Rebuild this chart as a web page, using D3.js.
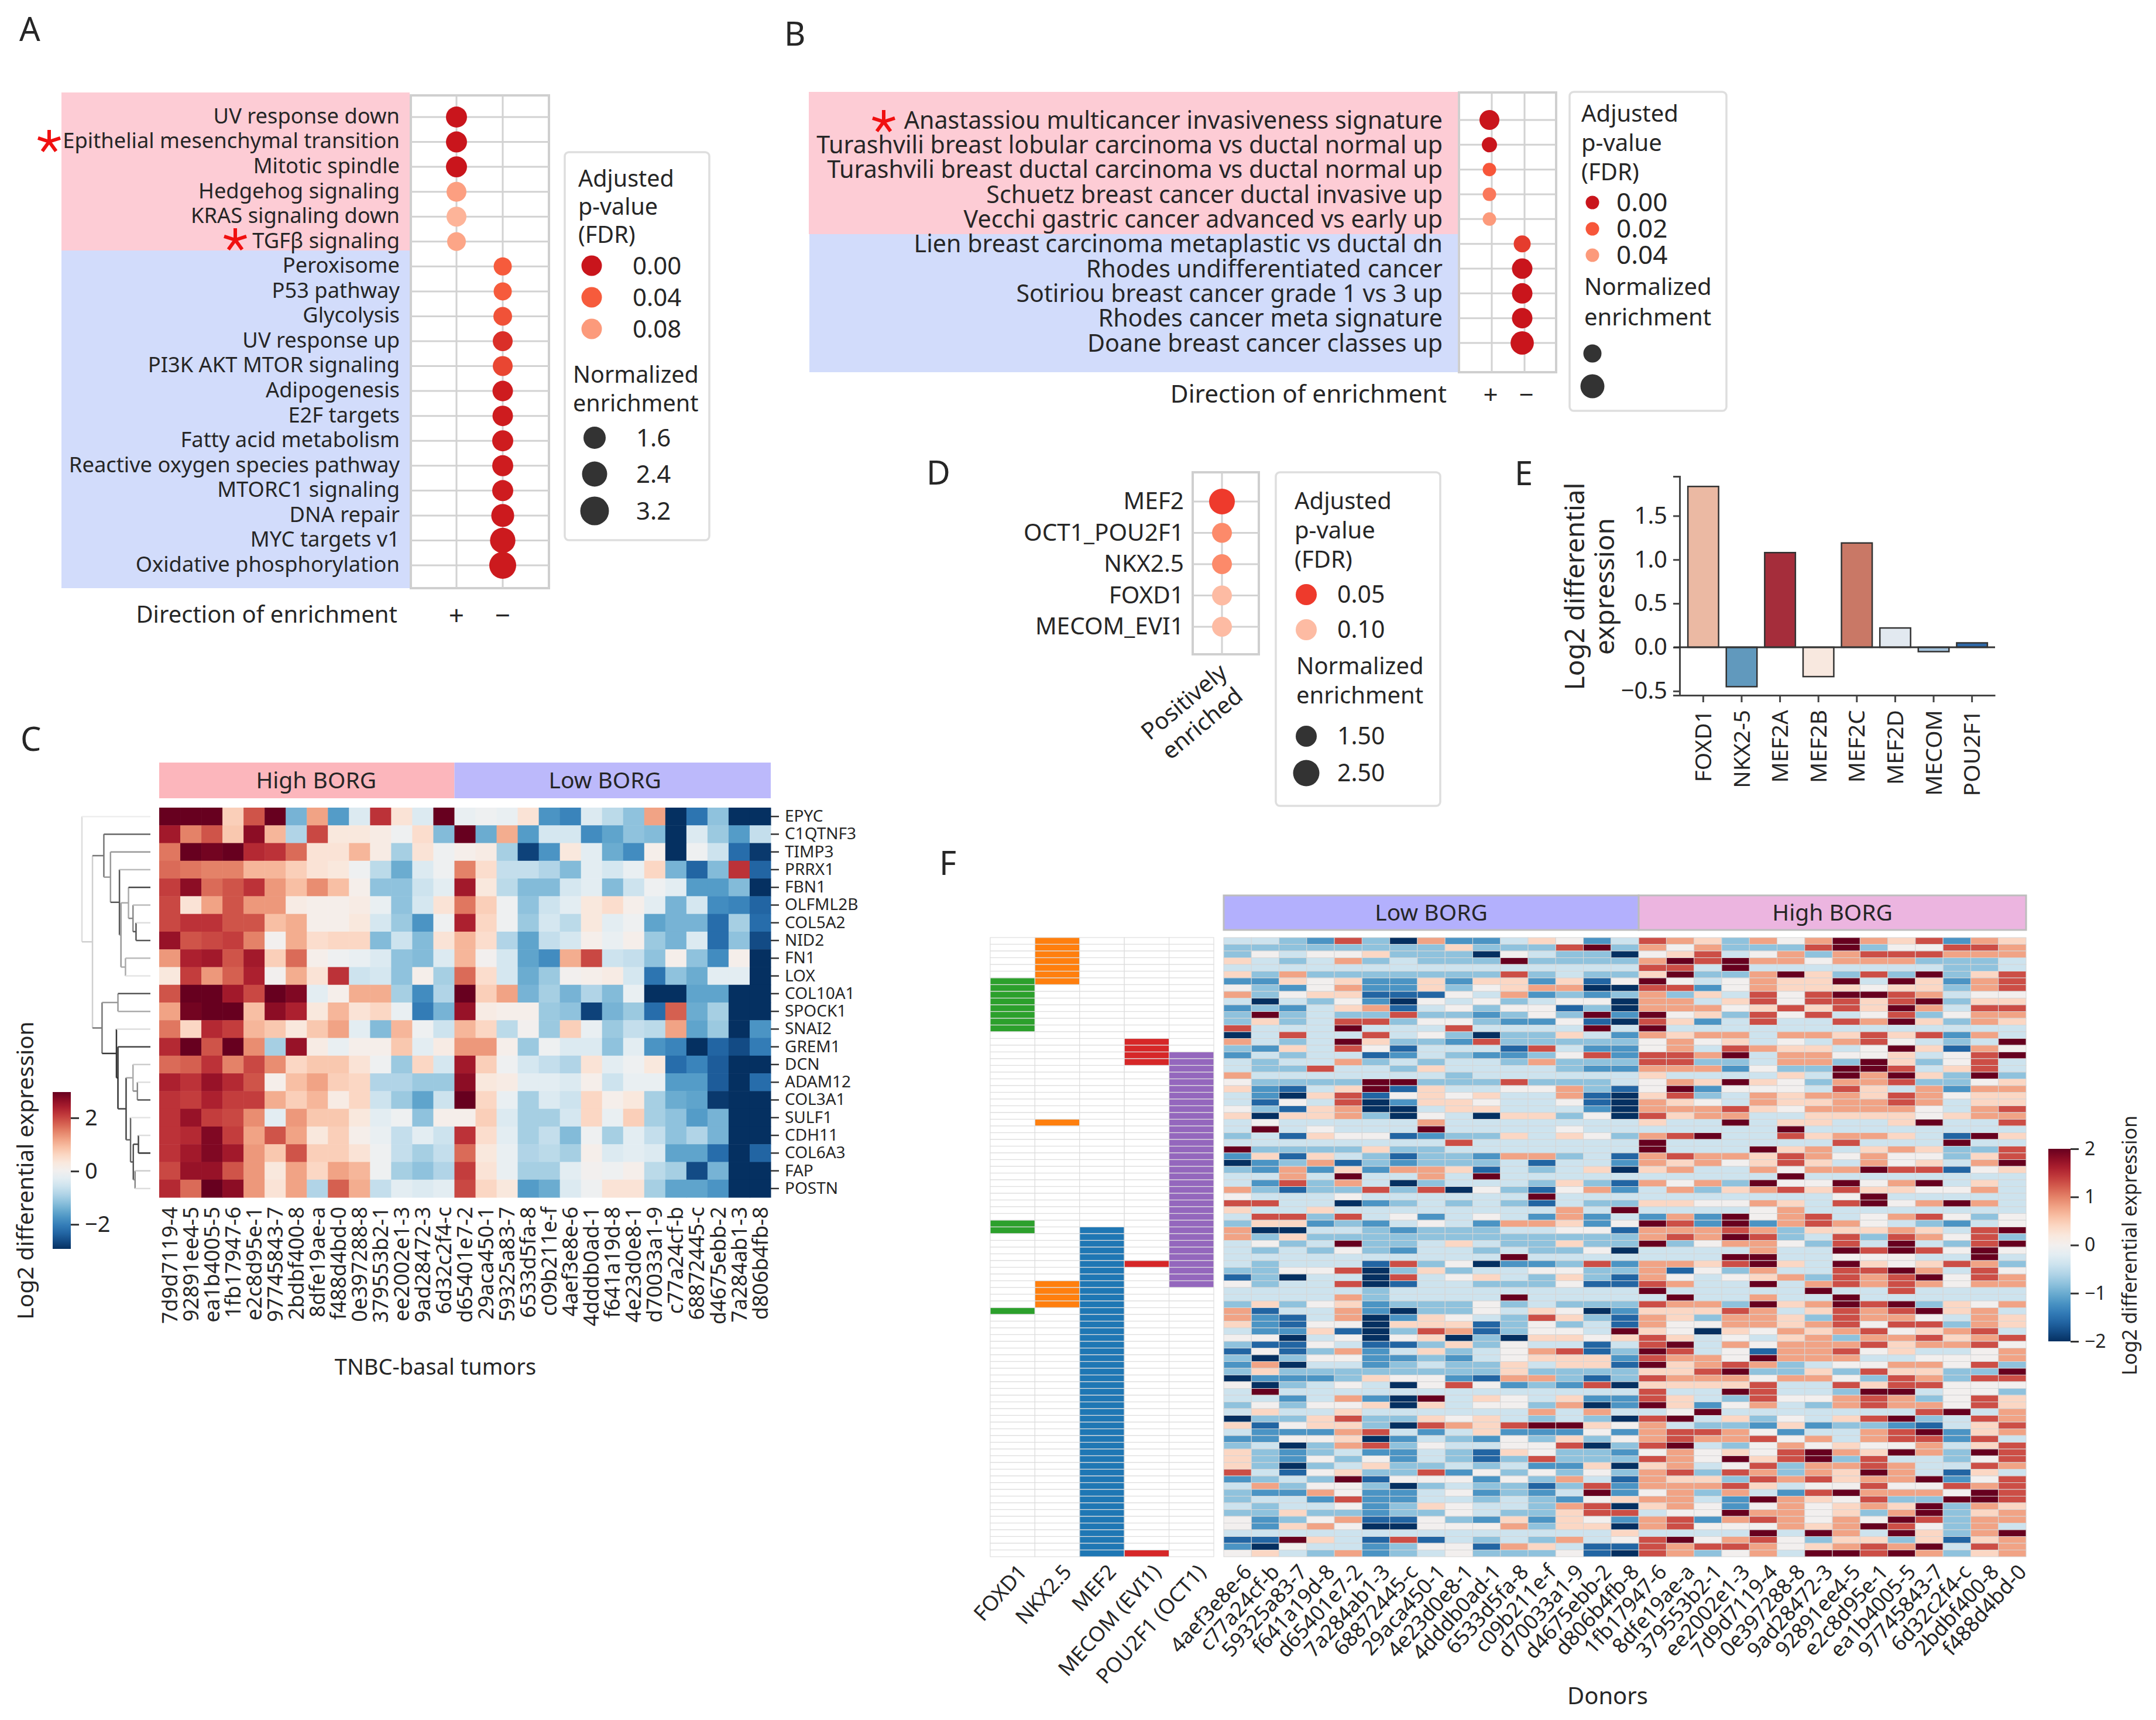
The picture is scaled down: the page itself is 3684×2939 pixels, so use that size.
<!DOCTYPE html>
<html>
<head>
<meta charset="utf-8">
<style>
  body { margin: 0; background: #fff; }
  text { font-family: "Noto Sans", sans-serif; fill: #262626; }
</style>
<script src="https://cdn.jsdelivr.net/npm/d3@7"></script>
</head>
<body>
<svg id="fig" width="3684" height="2939"></svg>
<script>
// panel A
const hallmarkSets = ["UV response down", "Epithelial mesenchymal transition", "Mitotic spindle", "Hedgehog signaling",
  "KRAS signaling down", "TGFβ signaling", "Peroxisome", "P53 pathway", "Glycolysis", "UV response up",
  "PI3K AKT MTOR signaling", "Adipogenesis", "E2F targets", "Fatty acid metabolism", "Reactive oxygen species pathway",
  "MTORC1 signaling", "DNA repair", "MYC targets v1", "Oxidative phosphorylation"];
const hallmarkDir = ["+", "+", "+", "+", "+", "+", "−", "−", "−", "−", "−", "−", "−", "−", "−", "−", "−", "−", "−"];
const hallmarkFdr = [0, 0, 0, .085, .105, .09, .04, .04, .035, .015, .028, .004, .004, .004, .004, .004, .003, .003, .003];
const hallmarkNes = [2.13, 2.13, 2.13, 1.92, 1.92, 1.7, 1.6, 1.6, 1.7, 1.92, 1.92, 2.03, 2.03, 2.13, 2.13, 2.13, 2.47, 2.92, 3.2];

// panel B
const c2Sets = ["Anastassiou multicancer invasiveness signature", "Turashvili breast lobular carcinoma vs ductal normal up",
  "Turashvili breast ductal carcinoma vs ductal normal up", "Schuetz breast cancer ductal invasive up",
  "Vecchi gastric cancer advanced vs early up", "Lien breast carcinoma metaplastic vs ductal dn",
  "Rhodes undifferentiated cancer", "Sotiriou breast cancer grade 1 vs 3 up", "Rhodes cancer meta signature",
  "Doane breast cancer classes up"];
const c2Dir = ["+", "+", "+", "+", "+", "−", "−", "−", "−", "−"];
const c2Fdr = [0, 0, .02, .03, .04, .012, 0, 0, 0, 0];
const c2Nes = [2.42, 1.75, 1.5, 1.5, 1.5, 2.0, 2.5, 2.5, 2.5, 2.9];

// panel D
const tfSets = ["MEF2", "OCT1_POU2F1", "NKX2.5", "FOXD1", "MECOM_EVI1"];
const tfFdr = [.05, .07, .07, .1, .1];
const tfNes = [2.5, 1.5, 1.5, 1.5, 1.5];

// panel E
const tfGenes = ["FOXD1", "NKX2-5", "MEF2A", "MEF2B", "MEF2C", "MEF2D", "MECOM", "POU2F1"];
const tfLogFc = [1.835, -0.45, 1.08, -0.335, 1.19, 0.22, -0.05, 0.05];
const tfBarColors = ["#ebb9a3", "#6199bd", "#a52d3b", "#f8e8df", "#c97866", "#e2e9f0", "#a5c3dc", "#2f69a8"];

// panel C
const cDonors = ["7d9d7119-4", "92891ee4-5", "ea1b4005-5", "1fb17947-6", "e2c8d95e-1", "97745843-7", "2bdbf400-8",
  "8dfe19ae-a", "f488d4bd-0", "0e397288-8", "379553b2-1", "ee2002e1-3", "9ad28472-3", "6d32c2f4-c",
  "d65401e7-2", "29aca450-1", "59325a83-7", "6533d5fa-8", "c09b211e-f", "4aef3e8e-6", "4dddb0ad-1",
  "f641a19d-8", "4e23d0e8-1", "d70033a1-9", "c77a24cf-b", "68872445-c", "d4675ebb-2", "7a284ab1-3", "d806b4fb-8"];
const cGenes = ["EPYC", "C1QTNF3", "TIMP3", "PRRX1", "FBN1", "OLFML2B", "COL5A2", "NID2", "FN1", "LOX", "COL10A1",
  "SPOCK1", "SNAI2", "GREM1", "DCN", "ADAM12", "COL3A1", "SULF1", "CDH11", "COL6A3", "FAP", "POSTN"];
const cValues = [
  [3,3,3,.7,1.9,3,-1.4,1.2,-1.7,-.4,2.2,.4,-.4,3, -.2,-.1,-.2,.4,-1.8,-2,-.4,-.8,-1.2,1.2,-3,-2.2,-1.2,-3,-3],
  [2.5,1.5,1.9,.8,2.7,1,-.9,2,.3,.3,.2,-.1,.5,-1.3, 3,-1.5,1.1,-1.7,-.5,-.5,-1.9,-1.6,-1.2,-1.3,-3,-.4,-1.1,-1.7,-.7],
  [1.6,3,2.9,3,2.3,2.2,1.7,.4,.4,1,.2,-1,.4,-.1, .1,.2,-1,-2.8,-1.8,.3,-.3,-1.5,-1.9,.1,-3,-.1,-.6,-2.3,-2.9],
  [1.7,1.6,1.5,1.5,1,1,.7,.4,.3,-.1,-.8,-1.5,-.4,-.1, 1.5,.5,-.7,-.7,-.9,-1.3,-.3,-.5,-.2,.6,-1.4,-2.4,-1.3,2.2,-2.4],
  [2.1,2.7,1.7,1.9,2.2,1.3,.9,1.4,.9,.1,-1.2,-1.2,-.6,-.3, 2.5,.3,-.8,-1.3,-1.3,-.5,-.3,-1.3,-.6,-.1,-.3,-1.7,-1.7,-1.3,-3],
  [2,.4,1.2,1.9,1.3,1.3,.2,.1,.1,.2,-.2,-1.2,-.5,.4, 1.6,.7,-.1,-1.2,-.6,-.3,.3,.5,.1,-.3,-1.4,-.5,-1.9,-2,-2.4],
  [2,2.2,2.2,1.9,1.9,.9,1.1,.1,.1,.3,-.5,-1.1,-1.8,-.1, 2.4,.6,-.1,-1.1,-.5,-.8,.3,-.3,-.1,-1.6,-1.4,-1.4,-2.3,-1,-2.3],
  [2.6,1.9,2,2.1,1.5,0,1.1,.5,.6,.6,-1.3,-.6,-1.3,.4, 1,.5,-.9,-1.6,-.7,-.5,.1,-.2,.1,-1.1,-1.4,-.4,-2.3,-1.2,-2.7],
  [1.3,2.4,2.5,1.9,2.5,.7,1.7,.1,-.1,-.2,-.4,-1.2,-1.3,-.4, 1,0,-.5,-1.6,-1.9,1.1,2,-.6,-.7,-1.2,.1,-1.2,-1.9,.1,-3],
  [.3,2.1,1.3,1.8,2.4,0,1.1,.4,2.2,-.6,-.5,-1.2,.1,-1, 1.7,.5,-.5,-1.5,-1.1,0,.1,.2,-.5,-2.2,-1.2,-1.5,-.3,-.3,-3],
  [1.9,3,3,2.5,2,3,2.8,-.3,.1,1.1,1.1,-1,-1.9,-.9, 3,.7,1.2,-1.4,-1,-1.4,-.9,-1.3,-.2,-3,-3,-1.6,-1.6,-3,-3],
  [1.2,2.9,3,3,.9,2.7,2.4,.3,1,.4,.6,-.2,-2.1,-1.4, 2.6,.2,.1,.1,-1.1,-1.2,-2.8,-1.4,-1.1,-2.3,1.8,-1.5,-1,-3,-3],
  [1.6,.6,2.3,2.1,1,.8,.3,.8,1.2,-.3,-1.3,1,-.1,-.6, 1,.6,-.8,0,-1.1,.7,-.2,-1.1,-.7,-.8,1.2,-1.6,-1.1,-3,-1.8],
  [2.3,3,1.9,3,1.4,-1,2.6,.2,-.2,.1,.1,.8,-.3,.2, 1.3,1.3,.1,-1.1,-.1,-.4,-.4,-1.2,-.3,-1.8,-2,-3,-2.4,-2.7,-2.1],
  [1.7,1.8,2.2,1.5,2,1.4,.6,.8,.8,.4,-.1,-1.1,.6,-.5, 2.5,.7,-.1,-.5,-.7,-.9,.4,-.3,-.1,.3,-2.3,-2,-2.5,-3,-3],
  [2.4,2.2,2.6,2.3,1.9,.1,.9,1.2,.7,.6,-.9,-.9,-1.1,-1.1, 2.7,.3,.2,-.3,-.3,-.4,.1,-.6,-.2,-.2,-1.7,-1.7,-2.5,-3,-2.3],
  [2.2,2.1,2.4,2.1,2.1,1.1,.7,1,.2,.6,-.6,-1.1,-1.6,-.6, 3,.6,-.2,-1,-.4,-.6,.6,.1,.3,-1,-1.5,-1.6,-2.9,-3,-3],
  [2.2,2.6,2.1,2,1.4,-.3,1.3,.8,.8,.3,-.3,-.1,-1.2,.1, .1,.7,-.4,-1,-1,-.5,.6,-.2,.7,-1,-1.2,-1.7,-1.4,-3,-3],
  [2.2,2.3,2.8,2.1,1.2,1.9,1.2,.3,.7,.1,-.2,-.7,-.3,-.6, 2.2,.5,-.3,-1,-.7,-1.3,-.1,-1,-.3,-.7,-1.2,-.9,-1.4,-3,-3],
  [2.2,2.5,2.8,2.5,1.3,.8,1.9,.7,.7,.4,-.1,-.7,-1,-.7, 1.7,.3,-.2,-.9,-.8,-1,.1,-.4,-.3,-.4,-1.6,-1.6,-2.3,-3,-2.4],
  [2,2.6,2.6,1.9,1.3,.3,1.2,.6,1.2,1,-.1,-1,-1.2,-.9, 2.1,.4,-.2,-1,-1,-.3,0,-.1,.1,-.8,-1,-2.7,-1.4,-3,-3],
  [2.3,1.7,3,2.7,1.3,.4,1.2,-.9,1.8,1.1,-.7,-.3,-.4,-.3, 2,.6,.3,-1.7,-1.5,-.4,-.1,.4,.4,-1,-1.6,-1.6,-1.8,-3,-3]
];
const cGroups = ["High BORG", "Low BORG"];
const cGroupSizes = [14, 15];

// gene tree beside panel C, merge height 0..1
const cTree = {h: 1, s: "#dcdcdc", c: [
  {n: "EPYC", s: "#eeeeee"},
  {h: .846, s: "#cfcfcf", c: [
    {h: .68, s: "#777", c: [
      {n: "C1QTNF3", s: "#666"},
      {h: .583, s: "#999", c: [
        {n: "TIMP3", s: "#999"},
        {h: .452, s: "#555", c: [
          {n: "PRRX1", s: "#bbb"},
          {h: .43, s: "#999", c: [
            {h: .32, s: "#aaa", c: [
              {n: "FBN1", s: "#444"},
              {h: .254, s: "#888", c: [
                {n: "OLFML2B", s: "#bbb"},
                {h: .21, s: "#555", c: [{n: "COL5A2", s: "#ddd"}, {n: "NID2", s: "#555"}]}
              ]}
            ]},
            {h: .364, s: "#aaa", c: [{n: "FN1", s: "#bbb"}, {n: "LOX", s: "#e4e4e4"}]}
          ]}
        ]}
      ]}
    ]},
    {h: .706, s: "#777", c: [
      {h: .474, s: "#999", c: [{n: "COL10A1", s: "#555"}, {n: "SPOCK1", s: "#aaa"}]},
      {h: .496, s: "#333", c: [
        {n: "SNAI2", s: "#ddd"},
        {h: .474, s: "#333", c: [
          {n: "GREM1", s: "#444"},
          {h: .355, s: "#444", c: [
            {h: .254, s: "#aaa", c: [
              {n: "DCN", s: "#ccc"},
              {h: .19, s: "#888", c: [{n: "ADAM12", s: "#ddd"}, {n: "COL3A1", s: "#555"}]}
            ]},
            {h: .29, s: "#666", c: [
              {n: "SULF1", s: "#e4e4e4"},
              {h: .25, s: "#555", c: [
                {h: .175, s: "#444", c: [{n: "CDH11", s: "#ddd"}, {n: "COL6A3", s: "#333"}]},
                {h: .224, s: "#888", c: [{n: "FAP", s: "#ccc"}, {n: "POSTN", s: "#ddd"}]}
              ]}
            ]}
          ]}
        ]}
      ]}
    ]}
  ]}
]};

// panel F
const fDonors = ["4aef3e8e-6", "c77a24cf-b", "59325a83-7", "f641a19d-8", "d65401e7-2", "7a284ab1-3", "68872445-c",
  "29aca450-1", "4e23d0e8-1", "4dddb0ad-1", "6533d5fa-8", "c09b211e-f", "d70033a1-9", "d4675ebb-2", "d806b4fb-8",
  "1fb17947-6", "8dfe19ae-a", "379553b2-1", "ee2002e1-3", "7d9d7119-4", "0e397288-8", "9ad28472-3", "92891ee4-5",
  "e2c8d95e-1", "ea1b4005-5", "97745843-7", "6d32c2f4-c", "2bdbf400-8", "f488d4bd-0"];
const fGroups = ["Low BORG", "High BORG"];
const fGroupSizes = [15, 14];
const fTfs = ["FOXD1", "NKX2.5", "MEF2", "MECOM (EVI1)", "POU2F1 (OCT1)"];
const fTfColors = ["#2ca02c", "#ff7f0e", "#1f77b4", "#d62728", "#9467bd"];
const foxd1Rows = [6, 7, 8, 9, 10, 11, 12, 13, 42, 43, 55];
const nkx25Rows = [0, 1, 2, 3, 4, 5, 6, 27, 51, 52, 53, 54];
const mef2Rows = [43, 44, 45, 46, 47, 48, 49, 50, 51, 52, 53, 54, 55, 56, 57, 58, 59, 60, 61, 62, 63, 64, 65, 66, 67,
  68, 69, 70, 71, 72, 73, 74, 75, 76, 77, 78, 79, 80, 81, 82, 83, 84, 85, 86, 87, 88, 89, 90, 91];
const mecomRows = [15, 16, 17, 18, 48, 91];
const pou2f1Rows = [17, 18, 19, 20, 21, 22, 23, 24, 25, 26, 27, 28, 29, 30, 31, 32, 33, 34, 35, 36, 37, 38, 39, 40, 41,
  42, 43, 44, 45, 46, 47, 48, 49, 50, 51];

// one digit per cell, read by eye from the colour: see fLevels
const fLevels = [-2, -1.6, -1.2, -.8, -.4, 0, .4, .8, 1.3, 2];
const fRows = [
  "44328307 2246524 87637579768276", "33333333 6333893 75733389355887", "35455633 3054330 56845737888777",
  "64347343 3393333 79897757773334", "44444444 4444444 88494444444334", "63733333 3383433 69337963839368",
  "22656226 2662615 95457669496278", "53257226 3567700 88257666566378", "73566111 5472323 73648589987455",
  "40435205 4534550 77468588689366", "23246714 5355130 77756868697488", "39343383 3235392 95638584583577",
  "36348835 5322510 86248448796376", "84449444 8444494 94444444444444", "04844845 3033642 76774776868274",
  "74349633 2833333 57564547854349", "32648514 4418422 57487664596175", "24344124 3223582 88794775564589",
  "43447343 4437333 88334773963584", "43384436 4444322 77725339984684", "74444444 3444444 64444649796393",
  "53333993 3383334 57696537783356", "62146916 4455731 59255548647277", "42068156 5644710 68347677687566",
  "41548026 6544510 76547667787466", "53167004 6644420 77786577775478", "60667305 4066350 86774466665677",
  "45444447 4444444 64494664469448", "49454449 4444544 44444944444444", "34165512 3364653 78944867764196",
  "44444444 8444444 94444448444944", "93333633 4444444 94449674676338", "26164313 3277341 78776875755368",
  "02371323 3341442 76756864756479", "32726277 6143460 67447577988156", "44749447 4944444 44444944444444",
  "42837403 4443631 75739559579464", "73133838 0531572 47367868665574", "54445444 4449444 44444445944444",
  "88440234 3431433 66557648957974", "64464444 4444749 44445744444444", "48838452 4542724 27295784578535",
  "36623245 4277625 98292787543245", "70044323 3344551 77787366676489", "73633333 3333333 78798348387583",
  "45349334 6433633 93577538494389", "43435324 4343350 44447449898595", "44444444 4494444 44499445554494",
  "43444183 5022382 77689649656873", "33558036 3445533 71537448897485", "13044084 5643631 75456738789587",
  "53448014 4333511 87449478787577", "44444344 4444444 94444494484444", "44447344 4494444 49447449444444",
  "36356233 3534333 87739679893657", "71447203 3546502 66687468789674", "72147026 5438631 76377638775476",
  "62155066 6135341 75577678588376", "42261038 7135549 65065767856784", "55045056 0306656 86454673778678",
  "31154113 6354414 89475777867785", "15137246 3457813 98451778564457", "30355223 2456662 87759777445557",
  "27044234 3364661 96787345577583", "36333333 3363333 66893363866339", "02223655 2177313 87775775387388",
  "50345405 8523280 66668448688555", "49444444 4444444 84498443994553", "44247209 4654622 86438557873586",
  "35355606 4553702 96257437877586", "46446444 4447474 45944444448947", "03368336 5643430 89463546893487",
  "61566308 7689965 74332623321468", "42227842 4622252 78875244789267", "22556024 3253635 78778574788284",
  "34037835 4455803 89435756557468", "63234224 3165332 57565897697398", "63253524 3138333 87596893844358",
  "63034633 4342260 67458377874487", "84156338 2535353 78387376974164", "23439155 5253741 76638786779258",
  "47355303 4331382 77786455855878", "32275224 5232492 57374289777598", "34428224 4343256 77429765833998",
  "43445236 5443780 67525756769376", "33633233 5433688 45597756379367", "52357115 3262652 78278757598377",
  "52675005 5573660 78555767985374", "44444444 4444446 44449497496379", "11964181 4343745 89578536636167",
  "20544235 5176411 87887567879487", "56437234 5333510 87357499897367"
];
const fValues = fRows.map(r => Array.from(r.replace(/ /g, ""), ch => fLevels[+ch]));

const panelLetters = ["A", "B", "C", "D", "E", "F"];
const letterX = [33, 1340, 35, 1583, 2588, 1605];
const letterY = [70, 78, 1283, 828, 829, 1495];

const svg = d3.select("#fig");
const rdbu = t => d3.interpolateRdBu(1 - t);
const GRID = "#d2d2d2";

svg.selectAll("text.letter").data(panelLetters).join("text").attr("class", "letter")
  .attr("x", (d, i) => letterX[i]).attr("y", (d, i) => letterY[i])
  .attr("font-size", 56).text(d => d);

function addLines(g, lines, x, y, size, anchor, gap) {
  lines.forEach((t, i) => {
    g.append("text").attr("x", x).attr("y", y + i * (gap || 0)).attr("dy", ".35em")
      .attr("font-size", size).attr("text-anchor", anchor || "start").text(t);
  });
}

function star(cx, cy) {
  const p = d3.path();
  d3.range(5).forEach(k => {
    p.moveTo(cx, cy);
    p.lineTo(cx + 20 * Math.sin(k * 2 * Math.PI / 5), cy - 20 * Math.cos(k * 2 * Math.PI / 5));
  });
  svg.append("path").attr("d", p.toString()).attr("stroke", "#f01010").attr("stroke-width", 6).attr("fill", "none");
}

// dot plots A, B and D share this
function dotPanel(o) {
  const g = svg.append("g");
  const y = d3.scalePoint().domain(o.labels).range(o.rowRange);
  const x = d3.scalePoint().domain(o.dirs).range(o.colRange);
  const r = d3.scaleLinear().domain(o.nesDomain).range(o.rRange);
  const col = d3.scaleLinear().domain(o.fdrDomain).range(o.fdrColors);

  if (o.bands) {
    o.bands.forEach(b => {
      g.append("rect").attr("x", b.x0).attr("width", b.x1 - b.x0).attr("y", b.y0).attr("height", b.y1 - b.y0).attr("fill", b.fill);
    });
  }
  g.append("rect").attr("x", o.box[0]).attr("y", o.box[1]).attr("width", o.box[2] - o.box[0]).attr("height", o.box[3] - o.box[1])
    .attr("fill", o.bands ? "#fff" : "none").attr("stroke", "#cfcfcf").attr("stroke-width", 4);
  g.selectAll("line.h").data(o.labels).join("line").attr("class", "h")
    .attr("x1", o.box[0]).attr("x2", o.box[2]).attr("y1", d => y(d)).attr("y2", d => y(d))
    .attr("stroke", GRID).attr("stroke-width", 3);
  g.selectAll("line.v").data(o.dirs).join("line").attr("class", "v")
    .attr("x1", d => x(d)).attr("x2", d => x(d)).attr("y1", o.box[1]).attr("y2", o.box[3])
    .attr("stroke", GRID).attr("stroke-width", 3);
  g.selectAll("circle.dot").data(o.labels).join("circle").attr("class", "dot")
    .attr("cx", (d, i) => x(o.dir[i]) + (o.dotShift || 0)).attr("cy", d => y(d))
    .attr("r", (d, i) => r(o.nes[i])).attr("fill", (d, i) => col(o.fdr[i]));
  g.selectAll("text.row").data(o.labels).join("text").attr("class", "row")
    .attr("x", o.labelX).attr("y", d => y(d)).attr("dy", o.labelDy).attr("text-anchor", "end")
    .attr("font-size", o.labelSize).text(d => d);

  // legend
  const l = o.legend;
  g.append("rect").attr("x", l.box[0]).attr("y", l.box[1]).attr("width", l.box[2] - l.box[0]).attr("height", l.box[3] - l.box[1])
    .attr("rx", 7).attr("fill", "#fff").attr("stroke", "#dedede").attr("stroke-width", 3.5);
  addLines(g, ["Adjusted", "p-value", "(FDR)"], l.titleX, l.titleY, l.size, "start", l.titleGap);
  addLines(g, ["Normalized", "enrichment"], l.normX, l.normY, l.size, "start", l.normGap);
  l.fdrVals.forEach((v, i) => {
    g.append("circle").attr("cx", l.fdrCx).attr("cy", l.fdrY[i]).attr("r", l.fdrR).attr("fill", col(v));
    addLines(g, [v.toFixed(2)], l.fdrLabelX, l.fdrY[i], l.valueSize);
  });
  l.nesVals.forEach((v, i) => {
    g.append("circle").attr("cx", l.nesCx).attr("cy", l.nesY[i]).attr("r", l.nesR[i]).attr("fill", "#333");
    if (l.nesLabelX) addLines(g, [v.toFixed(l.nesDigits)], l.nesLabelX, l.nesY[i], l.valueSize);
  });
  return {x, y, g};
}

// A
{
  const p = dotPanel({
    labels: hallmarkSets, dir: hallmarkDir, dirs: ["+", "−"], fdr: hallmarkFdr, nes: hallmarkNes,
    rowRange: [200, 966], colRange: [780, 859], nesDomain: [1.6, 3.2], rRange: [15.5, 23],
    fdrDomain: [0, .04, .08, .12], fdrColors: ["#c9151c", "#f65b3c", "#fc9a7b", "#fdc4ab"],
    box: [702, 163, 938, 1005], labelX: 683, labelSize: 36.3, labelDy: ".3em",
    bands: [{x0: 105, x1: 700, y0: 158, y1: 428, fill: "#fdccd5"}, {x0: 105, x1: 700, y0: 428, y1: 1005, fill: "#d2dcfb"}],
    legend: {box: [965, 260, 1212, 923], size: 39.5, valueSize: 42, titleX: 988, titleY: 305, titleGap: 48, normX: 979, normY: 640, normGap: 49,
      fdrVals: [0, .04, .08], fdrCx: 1011, fdrY: [454, 508, 562], fdrR: 17.5, fdrLabelX: 1081,
      nesVals: [1.6, 2.4, 3.2], nesDigits: 1, nesCx: 1016, nesY: [748, 810, 873], nesR: [19, 21.5, 24.5], nesLabelX: 1087}
  });
  addLines(p.g, ["Direction of enrichment"], 679, 1050, 40, "end");
  addLines(p.g, ["+"], 780, 1052, 46, "middle");
  addLines(p.g, ["−"], 859, 1052, 46, "middle");
  star(84, 242);
  star(402, 410);
}

// B
{
  const p = dotPanel({
    labels: c2Sets, dir: c2Dir, dirs: ["+", "−"], fdr: c2Fdr, nes: c2Nes,
    rowRange: [205, 586], colRange: [2549, 2605], nesDomain: [1.5, 2.5], rRange: [11.5, 17.5], dotShift: -4,
    fdrDomain: [0, .02, .04], fdrColors: ["#c9151c", "#f7563a", "#fc9a7b"],
    box: [2493, 158, 2659, 636], labelX: 2465, labelSize: 41.2, labelDy: ".36em",
    bands: [{x0: 1382, x1: 2491, y0: 157, y1: 400, fill: "#fdccd5"}, {x0: 1383, x1: 2491, y0: 400, y1: 636, fill: "#d2dcfb"}],
    legend: {box: [2682, 157, 2950, 702], size: 40, valueSize: 44, titleX: 2702, titleY: 194, titleGap: 50, normX: 2707, normY: 490, normGap: 52,
      fdrVals: [0, .02, .04], fdrCx: 2721, fdrY: [346, 391, 436], fdrR: 11.5, fdrLabelX: 2762,
      nesVals: [1.5, 2.5], nesDigits: 2, nesCx: 2721, nesY: [604, 660], nesR: [15.5, 20.5]}
  });
  addLines(p.g, ["Direction of enrichment"], 2472, 673, 42.3, "end");
  addLines(p.g, ["+"], 2547, 675, 44, "middle");
  addLines(p.g, ["−"], 2608, 675, 44, "middle");
  star(1510, 208);
}

// D
{
  const p = dotPanel({
    labels: tfSets, dir: tfSets.map(() => "+"), dirs: ["+"], fdr: tfFdr, nes: tfNes,
    rowRange: [857, 1071], colRange: [2088, 2088], nesDomain: [1.5, 2.5], rRange: [17, 22],
    fdrDomain: [.05, .07, .1], fdrColors: ["#ee3a2c", "#fc8a6a", "#fdbba3"],
    box: [2038, 807, 2151, 1118], labelX: 2023, labelSize: 40.5, labelDy: ".33em",
    legend: {box: [2180, 807, 2461, 1377], size: 40, valueSize: 41, titleX: 2212, titleY: 856, titleGap: 50, normX: 2215, normY: 1138, normGap: 50,
      fdrVals: [.05, .1], fdrCx: 2232, fdrY: [1016, 1076], fdrR: 18, fdrLabelX: 2285,
      nesVals: [1.5, 2.5], nesDigits: 2, nesCx: 2232, nesY: [1258, 1321], nesR: [18, 22.5], nesLabelX: 2285}
  });
  p.g.append("text").attr("transform", "translate(2023,1199) rotate(-40)").attr("text-anchor", "middle").attr("dy", ".35em").attr("font-size", 40).text("Positively");
  p.g.append("text").attr("transform", "translate(2054,1236) rotate(-40)").attr("text-anchor", "middle").attr("dy", ".35em").attr("font-size", 40).text("enriched");
}

// E
{
  const g = svg.append("g");
  const x = d3.scaleBand().domain(tfGenes).range([2871, 3409]).padding(.2);
  const y = d3.scaleLinear().domain([-0.548, 1.95]).range([1188, 814]);
  g.selectAll("rect").data(tfGenes).join("rect")
    .attr("x", d => x(d)).attr("width", x.bandwidth())
    .attr("y", (d, i) => y(Math.max(0, tfLogFc[i])))
    .attr("height", (d, i) => Math.abs(y(tfLogFc[i]) - y(0)))
    .attr("fill", (d, i) => tfBarColors[i]).attr("stroke", "#333").attr("stroke-width", 2.5);

  const ya = g.append("g").attr("transform", "translate(2870,0)")
    .call(d3.axisLeft(y).tickValues([-.5, 0, .5, 1, 1.5]).tickFormat(d3.format(".1f")).tickSize(11).tickPadding(10));
  const xa = g.append("g").attr("transform", "translate(0,1188)")
    .call(d3.axisBottom(x).tickSize(12).tickSizeOuter(0));
  ya.selectAll("text").attr("font-size", 40).attr("font-family", '"Noto Sans"');
  xa.selectAll("text").attr("font-size", 39).attr("font-family", '"Noto Sans"')
    .attr("transform", "rotate(-90)").attr("text-anchor", "end").attr("x", -25).attr("y", 0).attr("dy", ".35em");
  g.selectAll(".domain,.tick line").attr("stroke", "#444").attr("stroke-width", 3);
  g.append("line").attr("x1", 2860).attr("x2", 3409).attr("y1", y(0)).attr("y2", y(0)).attr("stroke", "#333").attr("stroke-width", 3);
  g.append("text").attr("transform", "translate(2691,1002) rotate(-90)").attr("text-anchor", "middle").attr("dy", ".35em").attr("font-size", 46).text("Log2 differential");
  g.append("text").attr("transform", "translate(2742,1002) rotate(-90)").attr("text-anchor", "middle").attr("dy", ".35em").attr("font-size", 46).text("expression");
}

function colorbar(id, x0, x1, scale, ticks, size, titleX, titleY, titleSize) {
  const stops = d3.range(0, 1.001, .05);
  const grad = svg.append("linearGradient").attr("id", id).attr("x1", 0).attr("x2", 0).attr("y1", 1).attr("y2", 0);
  grad.selectAll("stop").data(stops).join("stop").attr("offset", d => d).attr("stop-color", d => rdbu(d));
  const [y1, y0] = scale.range();
  svg.append("rect").attr("x", x0).attr("width", x1 - x0).attr("y", y0).attr("height", y1 - y0).attr("fill", `url(#${id})`);
  const a = svg.append("g").attr("transform", `translate(${x1},0)`)
    .call(d3.axisRight(scale).tickValues(ticks).tickFormat(d3.format("d")).tickSize(14).tickPadding(10));
  a.select(".domain").remove();
  a.selectAll("text").attr("font-size", size).attr("font-family", '"Noto Sans"');
  a.selectAll("line").attr("stroke", "#333").attr("stroke-width", 3);
  svg.append("text").attr("transform", `translate(${titleX},${titleY}) rotate(-90)`).attr("text-anchor", "middle")
    .attr("dy", ".35em").attr("font-size", titleSize).text("Log2 differential expression");
}

function groupHeader(x, y0, y1, groups, sizes, colors, size, stroke, labelShift) {
  let n = 0;
  groups.forEach((name, i) => {
    const a = x(x.domain()[n]), b = a + x.step() * sizes[i];
    const r = svg.append("rect").attr("x", a).attr("y", y0).attr("width", b - a).attr("height", y1 - y0).attr("fill", colors[i]);
    if (stroke) r.attr("stroke", stroke).attr("stroke-width", 3);
    svg.append("text").attr("x", (a + b) / 2 + labelShift[i]).attr("y", (y0 + y1) / 2).attr("dy", ".35em").attr("text-anchor", "middle")
      .attr("font-size", size).text(name);
    n += sizes[i];
  });
}

// C
{
  const x = d3.scaleBand().domain(cDonors).range([272, 1317]);
  const y = d3.scaleBand().domain(cGenes).range([1380, 2046]);
  const col = d3.scaleSequential(rdbu).domain([-3, 3]);
  const cells = cValues.flatMap((row, r) => row.map((v, c) => ({gene: cGenes[r], donor: cDonors[c], v})));
  svg.append("g").selectAll("rect").data(cells).join("rect")
    .attr("x", d => x(d.donor)).attr("y", d => y(d.gene))
    .attr("width", x.bandwidth() + .5).attr("height", y.bandwidth() + .5)
    .attr("fill", d => col(d.v));

  groupHeader(x, 1303, 1364, cGroups, cGroupSizes, ["#fcb6bc", "#bcb9fb"], 39, null, [16, -13]);

  const ra = svg.append("g").attr("transform", "translate(1317,0)").call(d3.axisRight(y).tickSize(14).tickPadding(10).tickSizeOuter(0));
  ra.select(".domain").remove();
  ra.selectAll("text").attr("font-size", 28).attr("font-family", '"Noto Sans"');
  ra.selectAll("line").attr("stroke", "#333").attr("stroke-width", 2.5);

  const ba = svg.append("g").attr("transform", "translate(0,2046)").call(d3.axisBottom(x).tickSize(0).tickSizeOuter(0));
  ba.select(".domain").remove();
  ba.selectAll("text").attr("font-size", 36).attr("font-family", '"Noto Sans"')
    .attr("transform", "rotate(-90)").attr("text-anchor", "end").attr("x", -16).attr("y", 0).attr("dy", ".35em");

  svg.append("text").attr("x", 744).attr("y", 2336).attr("dy", ".35em").attr("text-anchor", "middle").attr("font-size", 38).text("TNBC-basal tumors");

  // tree
  const hx = d3.scaleLinear().domain([0, 1]).range([257, 140]);
  const root = d3.hierarchy(cTree, d => d.c);
  root.eachAfter(d => {
    d.py = d.children ? d3.mean(d3.extent(d.children, k => k.py)) : y(d.data.n) + y.bandwidth() / 2;
    d.ph = d.data.h || 0;
  });
  const dg = svg.append("g").attr("fill", "none").attr("stroke-width", 2.5);
  root.descendants().filter(d => d.children).forEach(d => {
    const ys = d.children.map(k => k.py);
    dg.append("line").attr("x1", hx(d.ph)).attr("x2", hx(d.ph)).attr("y1", d3.min(ys)).attr("y2", d3.max(ys)).attr("stroke", d.data.s);
    d.children.forEach(k => {
      dg.append("line").attr("x1", hx(d.ph)).attr("x2", hx(k.ph)).attr("y1", k.py).attr("y2", k.py).attr("stroke", k.data.s);
    });
  });

  colorbar("cbC", 90, 121, d3.scaleLinear().domain([-2.92, 2.97]).range([2134, 1866]), [-2, 0, 2], 38, 43, 2000, 39);
}

// F
{
  const rowIdx = d3.range(fValues.length);
  const x = d3.scaleBand().domain(fDonors).range([2091, 3462]);
  const y = d3.scaleBand().domain(rowIdx).range([1602, 2660]);
  const col = d3.scaleSequential(rdbu).domain([-2, 2]);
  const cells = fValues.flatMap((row, r) => row.map((v, c) => ({r, donor: fDonors[c], v})));
  svg.append("g").selectAll("rect").data(cells).join("rect")
    .attr("x", d => x(d.donor)).attr("y", d => y(d.r))
    .attr("width", x.bandwidth()).attr("height", y.bandwidth())
    .attr("fill", d => col(d.v)).attr("stroke", "#d6d6d6").attr("stroke-width", 1);

  groupHeader(x, 1530, 1589, fGroups, fGroupSizes, ["#b3b0fd", "#ecb5e0"], 39, "#bdbdbd", [0, 0]);

  // annotation strip
  const ax = d3.scaleBand().domain(fTfs).range([1692, 2074]);
  const memberRows = [foxd1Rows, nkx25Rows, mef2Rows, mecomRows, pou2f1Rows];
  const acells = fTfs.flatMap((tf, i) => rowIdx.map(r => ({tf, r, fill: memberRows[i].includes(r) ? fTfColors[i] : "#fff"})));
  svg.append("g").selectAll("rect").data(acells).join("rect")
    .attr("x", d => ax(d.tf)).attr("y", d => y(d.r))
    .attr("width", ax.bandwidth()).attr("height", y.bandwidth())
    .attr("fill", d => d.fill).attr("stroke", "#dedede").attr("stroke-width", 1.2);

  const aa = svg.append("g").attr("transform", "translate(0,2660)").call(d3.axisBottom(ax).tickSize(0).tickSizeOuter(0));
  const da = svg.append("g").attr("transform", "translate(0,2660)").call(d3.axisBottom(x).tickSize(0).tickSizeOuter(0));
  [aa, da].forEach(a => {
    a.select(".domain").remove();
    a.selectAll("text").attr("font-size", 36).attr("font-family", '"Noto Sans"')
      .attr("transform", "translate(17,19) rotate(-48)").attr("text-anchor", "end").attr("x", 0).attr("y", 0).attr("dy", ".35em");
  });

  svg.append("text").attr("x", 2747).attr("y", 2898).attr("dy", ".35em").attr("text-anchor", "middle").attr("font-size", 40).text("Donors");

  colorbar("cbF", 3500, 3538, d3.scaleLinear().domain([-2, 2]).range([2292, 1963]), [-2, -1, 0, 1, 2], 32, 3639, 2128, 34);
}
</script>
</body>
</html>
